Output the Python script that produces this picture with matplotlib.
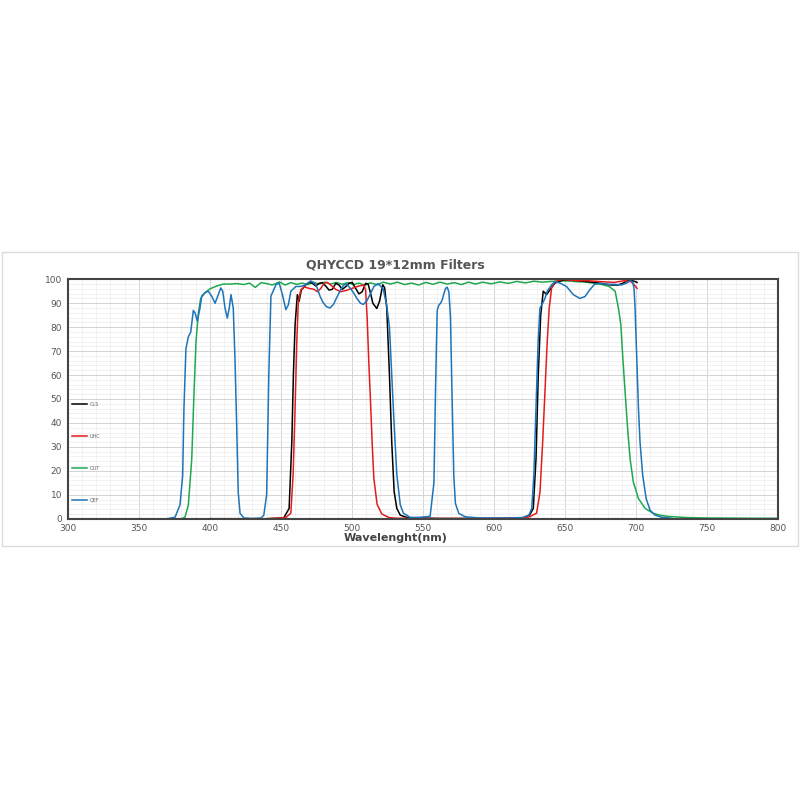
import matplotlib
matplotlib.use("Agg")
import matplotlib.pyplot as plt
from matplotlib.patches import Rectangle
from matplotlib.ticker import MultipleLocator

# transmission curves (wavelength nm, transmission %)
cls_wl = [400, 440, 452, 455.8, 457.7, 458.8, 460, 461.6, 462.8, 464.4, 466, 467.5, 469.9, 472.2,
          474.5, 476.9, 479.2, 481.5, 483.9, 486.2, 488.6, 490.9, 493.2, 495.6, 497.9, 500.2, 502.6,
          504.9, 507.2, 509.6, 511.4, 513.1, 514.7, 517.5, 519.5, 521.7, 523, 524.5, 526.4, 528,
          529.7, 531.6, 534, 538.7, 560, 600, 620, 625, 627.6, 629.5, 631.1, 632.8, 634.6, 637,
          639.3, 642.8, 648.6, 653, 659, 666, 675.4, 682.4, 687, 690.5, 694, 697.6, 700.6]
cls_val = [0, 0, 0.3, 4.3, 32, 60, 81, 93.6, 90.8, 95.6, 96.5, 97.7, 98.7, 98.3,
           97.2, 98.3, 98.6, 97.2, 95.5, 95.8, 98.3, 97.6, 95.8, 96.9, 98.3, 98.7, 96.2,
           93.9, 94.8, 98.3, 98, 94.2, 90, 87.8, 91, 97.7, 96.5, 88, 60, 32,
           11.3, 4.3, 1.5, 0.5, 0.1, 0.1, 0.3, 1.5, 4.3, 25, 60, 85, 95, 93.6,
           95.6, 98.4, 99.7, 99.7, 99.4, 99, 98.3, 97.6, 97.6, 98.3, 99.4, 99.4, 98.7]

uhc_wl = [400, 440, 453.5, 457, 458.6, 460, 461.2, 462.3, 464, 466.4, 469.9, 473.4, 475.7, 478.1,
          480.4, 482.7, 485.1, 488.6, 492.1, 495.6, 500.2, 504.9, 508.4, 509.6, 510.7, 511.9, 513,
          514.2, 515.4, 517.7, 521, 526, 531, 560, 600, 620, 625, 629.9, 632.3, 634.2, 635.8,
          637.4, 638.8, 640.5, 642.8, 648.3, 652, 659, 666, 675.4, 684.7, 691.7, 696.4, 698.7, 700.6]
uhc_val = [0, 0, 0.5, 2.3, 18.3, 46.2, 74, 90.8, 95.5, 96.8, 96.2, 95.8, 94.8, 96.2,
           98.3, 98.7, 97.6, 95.8, 94.8, 95.3, 96.2, 97.2, 97.6, 95.5, 84, 65, 50,
           32, 17, 6, 2, 0.5, 0.2, 0.1, 0.1, 0.3, 0.8, 2.3, 11, 32, 53,
           74, 88, 96.5, 99, 100, 99.7, 99.4, 99.4, 99, 98.7, 99.4, 99, 97.6, 96.2]

out_wl = [310, 380, 382.5, 384.9, 387.3, 388.9, 390.3, 391.9, 393.6, 396.6, 400.1, 404.9, 409.5,
          414.2, 418.9, 424, 428, 432, 436, 440, 444, 449, 453, 457, 461, 465, 469, 473, 477,
          481, 485, 489, 493, 497, 501, 505, 509, 513, 518, 522, 527, 532, 537, 542, 547, 552,
          557, 562, 567, 572, 577, 582, 587, 592, 598, 604, 610, 616, 622, 628, 634, 640, 646,
          652, 658, 664, 670, 676, 681, 685.2, 687.5, 689.2, 690.6, 692.2, 693.8, 695.7, 698,
          701.6, 706.3, 712.1, 716.8, 722, 735, 750, 780, 800]
out_val = [0, 0, 0.6, 5.7, 25, 53, 74, 85.7, 92, 94.4, 96, 97.2, 98,
           98, 98.2, 97.8, 98.4, 96.6, 98.6, 98.2, 97.6, 98.9, 97.6, 98.6, 97.9, 98.4, 97.8, 98.7, 98,
           98.8, 98, 98.7, 97.9, 98.6, 97.8, 98.4, 97.6, 98.5, 97.7, 98.8, 98, 98.8, 97.8, 98.4, 97.6, 98.7,
           97.9, 98.8, 98, 98.6, 97.8, 98.8, 98, 98.8, 98.1, 98.9, 98.3, 99.1, 98.5, 99.2, 98.8, 99.1, 99.3,
           99.3, 99, 98.8, 98.4, 97.8, 97, 95, 88, 81, 67, 53, 39, 25, 15.3,
           8.4, 4.3, 2.2, 1.5, 1, 0.5, 0.3, 0.2, 0.2]

qef_wl = [370, 375.5, 379, 380.9, 381.8, 383.2, 384.9, 386.6, 388.4, 389.6, 391.2, 393.1, 394.3,
          396.6, 398.9, 401.3, 403.7, 406, 407.7, 409.1, 410.7, 412.3, 413.7, 414.9, 416.5, 417.7,
          418.9, 420, 421.3, 424, 430, 436, 438, 440, 441.5, 443, 446.5, 448.8, 451.1, 453.5,
          455.3, 457, 460.5, 464, 467.5, 471, 473.5, 475.5, 477.5, 479.5, 482, 484.5, 487, 489,
          491.5, 494, 496, 498.5, 501, 503.5, 506, 508, 510.5, 513, 515.5, 518.5, 522, 524.5,
          526.4, 528, 529.7, 531.6, 534, 536.2, 541, 548, 555, 557.7, 558.9, 560, 561.2, 562.4,
          563.5, 564.7, 565.9, 567, 568.2, 569.3, 570.5, 571.7, 572.8, 575.2, 579.8, 590, 610,
          620, 624.5, 626.5, 628, 629.5, 631, 632.3, 634.2, 635.8, 637.4, 640.5, 643, 646.5, 651,
          655.7, 660.4, 664, 667.2, 670.7, 675.4, 680, 684.7, 689.4, 692.9, 695.9, 697.6, 698.5,
          699.2, 700.4, 701.6, 702.7, 704.6, 707, 709.8, 713.3, 718, 725]
qef_val = [0, 0.6, 5.7, 18, 46, 71, 76, 78, 87, 86, 82.5, 88, 93,
           94.4, 95, 93, 90, 93.6, 96.4, 95, 88, 83.8, 88, 93.6, 88, 67,
           39, 11, 2.2, 0.3, 0.1, 0.3, 1.5, 10, 60, 93, 97.7, 98.4, 93.6, 87.3,
           89.4, 95, 97, 97, 97.7, 99.3, 98.5, 96.5, 93, 90.5, 88.6, 88, 89.5, 92,
           95, 97.5, 98, 96.5, 94.5, 92, 90, 89.5, 91, 94, 97, 98.2, 96, 89,
           80, 60, 39, 18.3, 5.8, 2.3, 0.5, 0.6, 1, 15, 56.5, 87, 89.3, 90,
           91.4, 94, 96.2, 96.7, 94.8, 84.4, 49.6, 17.5, 6.4, 2.2, 0.8, 0.3, 0.3,
           0.5, 1.5, 4.3, 18.3, 46, 74, 88, 90, 92, 95, 97.7, 99, 98.4, 97,
           93.6, 92, 92.8, 95.5, 97.9, 98.3, 97.9, 97.9, 97.6, 98.3, 99.4, 99, 96,
           88, 67, 46, 32, 18, 8.4, 3.5, 1.5, 0.6, 0.2]

x_ticks = [300, 350, 400, 450, 500, 550, 600, 650, 700, 750, 800]
y_ticks = [0, 10, 20, 30, 40, 50, 60, 70, 80, 90, 100]

fig = plt.figure(figsize=(8, 8), dpi=100)
fig.patches.append(Rectangle((0.0025, 0.3175), 0.995, 0.3675, transform=fig.transFigure,
                             fill=False, edgecolor='#dcdcdc', linewidth=1))

ax = fig.add_axes([0.0846, 0.3516, 0.8883, 0.2993])

l_out, = ax.plot(out_wl, out_val, color='#1fa84f', lw=1.1, label='OUT')
l_cls, = ax.plot(cls_wl, cls_val, color='black', lw=1.1, label='CLS')
l_uhc, = ax.plot(uhc_wl, uhc_val, color='#e51b1b', lw=1.1, label='UHC')
l_qef, = ax.plot(qef_wl, qef_val, color='#1c74bb', lw=1.1, label='QEF')

ax.set_xlim(300, 800)
ax.set_ylim(0, 100)
ax.set_xticks(x_ticks)
ax.set_yticks(y_ticks)
ax.xaxis.set_minor_locator(MultipleLocator(10))
ax.yaxis.set_minor_locator(MultipleLocator(2))
ax.grid(which='major', color='#d4d4d4', lw=0.7)
ax.grid(which='minor', color='#ececec', lw=0.5)
ax.set_axisbelow(True)
ax.tick_params(which='both', length=0, labelsize=6.5, labelcolor='#555555', pad=4)
for sp in ax.spines.values():
    sp.set_color('#444444')
    sp.set_linewidth(1.5)

ax.legend(handles=[l_cls, l_uhc, l_out, l_qef], loc='upper left', bbox_to_anchor=(0.0, 0.505),
          frameon=False, fontsize=3.5, labelspacing=5.5, handlelength=3, handletextpad=0.6,
          labelcolor='#666666')

fig.text(0.494, 0.669, 'QHYCCD 19*12mm Filters', ha='center', va='center',
         fontsize=9, fontweight='bold', color='#555555')
fig.text(0.494, 0.327, 'Wavelenght(nm)', ha='center', va='center',
         fontsize=8, fontweight='bold', color='#444444')

plt.savefig('out.png', dpi=100)
